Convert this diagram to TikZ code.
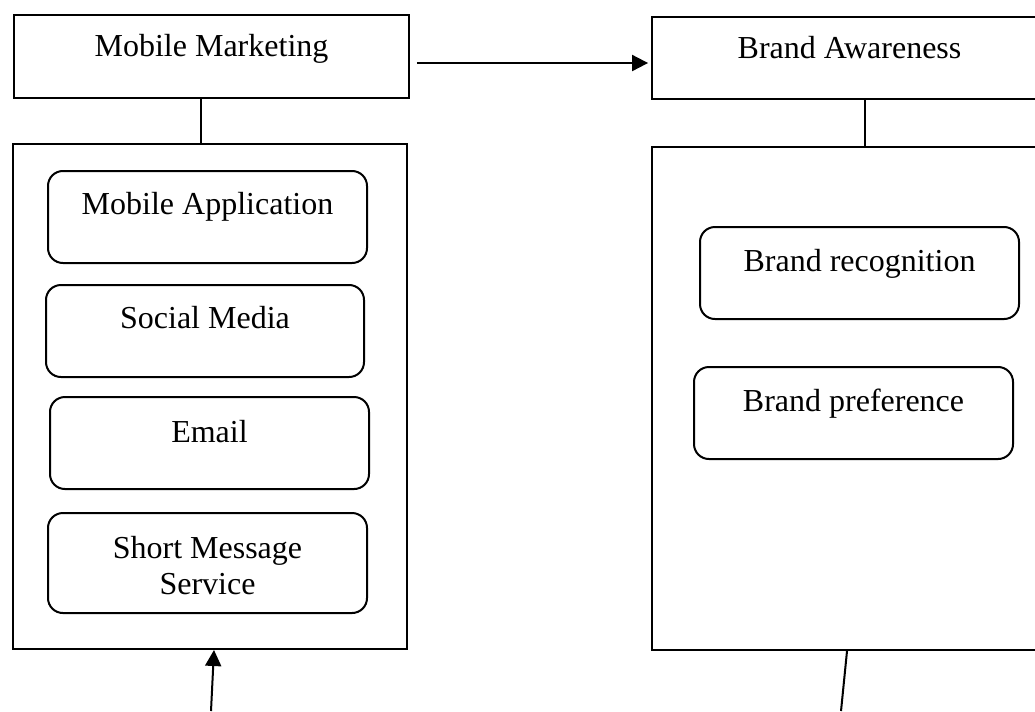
\documentclass[tikz,border=0pt]{standalone}
\usepackage{fontspec}
\setmainfont{Liberation Serif}
\usepackage{tikz}
\usetikzlibrary{calc}
\usetikzlibrary{arrows.meta}
\tikzset{
	bigbox/.style={draw,line width=0.75pt,inner sep=0pt,anchor=north west},
	plainbox/.style={bigbox,minimum width=148.125pt,text height=15.375pt},
	roundbox/.style={bigbox,rounded corners=5.6pt,minimum width=119.625pt,text height=16.125pt,text depth=18.375pt},
	link/.style={line width=0.5pt},
	flow/.style={line width=0.75pt}
}

\begin{document}
\begin{tikzpicture}[x=0.375pt,y=-0.375pt,font=\fontsize{12}{13.5}\selectfont]
	\useasboundingbox (0,0) rectangle (1035,711);
	\node[plainbox,text depth=15.75pt] (mm) at (13,14) {Mobile Marketing};
	\node[plainbox,text depth=15.375pt] (ba) at (651,16) {Brand Awareness};
	\node[bigbox,minimum width=147.75pt,minimum height=189.375pt] (lframe) at (12,143) {};
	\node[bigbox,minimum width=147.75pt,minimum height=188.625pt] (rframe) at (651,146) {};
	\node[roundbox] (app) at (47,170) {Mobile Application};
	\node[roundbox,minimum width=119.25pt] (social) at (45,284) {Social Media};
	\node[roundbox,text height=16.875pt,text depth=17.625pt] (email) at (49,396) {Email};
	\node[roundbox,text height=16.875pt,text depth=20.625pt] (sms) at (47,512) {\begin{tabular}[t]{@{}c@{}}Short Message\\Service\end{tabular}};
	\node[roundbox,text height=16.5pt,text depth=18pt] (recog) at (699,226) {Brand recognition};
	\node[roundbox,text height=16.5pt,text depth=18pt] (pref) at (693,366) {Brand preference};
	\draw[link] ([xshift=-3.94pt]mm.south) -- ([xshift=-3.94pt]mm.south |- lframe.north);
	\draw[link] ([xshift=5.8pt]ba.south) -- ([xshift=5.8pt]ba.south |- rframe.north);
	\draw[flow,-{Triangle[length=6pt,width=6pt]},shorten >=1.1pt] ([shift={(2.6pt,-2.44pt)}]mm.east) -- ([yshift=-2.44pt]mm.east -| ba.west);
	\coordinate (lin) at (211,711);
	\coordinate (rout) at (841,711);
	\draw[flow,-{Triangle[length=6pt,width=6pt]}] (lin) -- ([xshift=1.5pt]lframe.south);
	\draw[flow] ([xshift=-0.75pt]rframe.south) -- (rout);
\end{tikzpicture}
\end{document}
